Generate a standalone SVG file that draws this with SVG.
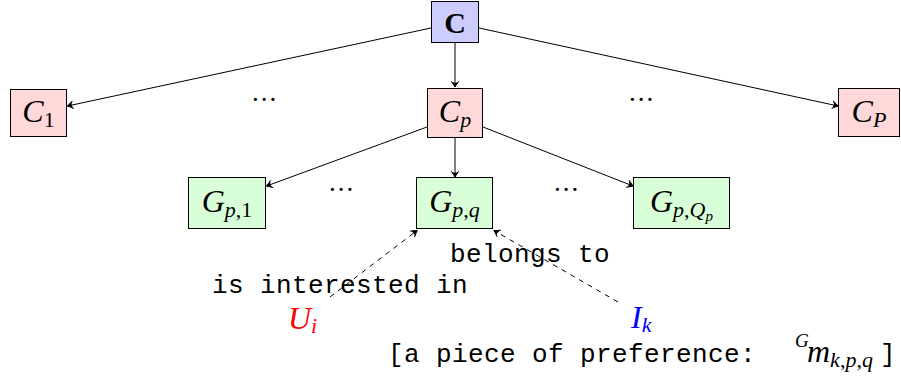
<svg xmlns="http://www.w3.org/2000/svg" width="901" height="380" viewBox="0 0 901 380">
<style>
.box{stroke:#000;stroke-width:1}
.top{fill:#ccccff}
.mid{fill:#ffd9d9}
.low{fill:#d9ffd9}
.m{font-family:"Liberation Serif",serif;font-size:32px;font-style:italic}
.r{font-style:normal}
.sub{font-size:22px}
.sup{font-size:19px}
.tt{font-family:"Liberation Mono",monospace;font-size:26px;letter-spacing:0.4px}
.dots{font-family:"Liberation Serif",serif;font-size:27px;letter-spacing:2px}
.e{stroke:#000;stroke-width:1;fill:none}
.d{stroke:#000;stroke-width:1;fill:none;stroke-dasharray:5 5}
</style>
<defs>
<marker id="ah" markerUnits="userSpaceOnUse" markerWidth="12" markerHeight="12" refX="0" refY="0" viewBox="-8 -6 10 12" orient="auto">
<path d="M-5.5,-3.6 Q-1.5,-0.8 0,0 Q-1.5,0.8 -5.5,3.6" fill="none" stroke="#000" stroke-width="1" stroke-linecap="round"/>
<path d="M-5,-3.2 Q-1.5,-0.8 0,0 Q-1.5,0.8 -5,3.2 Q-3.5,0 -5,-3.2 z" fill="#000"/>
</marker>
</defs>
<g id="connectors">
<line class="e" x1="431" y1="28" x2="67.5" y2="106" marker-end="url(#ah)"/>
<line class="e" x1="455" y1="43" x2="455" y2="87" marker-end="url(#ah)"/>
<line class="e" x1="479" y1="28" x2="838" y2="106" marker-end="url(#ah)"/>
<line class="e" x1="427" y1="127" x2="266.5" y2="186" marker-end="url(#ah)"/>
<line class="e" x1="455" y1="138" x2="455" y2="177" marker-end="url(#ah)"/>
<line class="e" x1="483" y1="127" x2="633" y2="186" marker-end="url(#ah)"/>
<line class="d" x1="330" y1="297" x2="417" y2="230.5" marker-end="url(#ah)"/>
<line class="d" x1="618" y1="302" x2="494" y2="230.5" marker-end="url(#ah)"/>
</g>
<g id="node-C">
<rect class="box top" x="431.5" y="1.5" width="47" height="41"/>
<text x="455" y="33" text-anchor="middle" font-family="Liberation Serif, serif" font-size="30" font-weight="bold">C</text>
</g>
<g id="node-C1">
<rect class="box mid" x="10.5" y="89.5" width="56" height="47"/>
<text class="m" x="38.5" y="122" text-anchor="middle">C<tspan class="r sub" dy="5">1</tspan></text>
</g>
<g id="node-Cp">
<rect class="box mid" x="427.5" y="88.5" width="55" height="49"/>
<text class="m" x="455" y="122" text-anchor="middle">C<tspan class="sub" dy="5">p</tspan></text>
</g>
<g id="node-CP">
<rect class="box mid" x="838.5" y="88.5" width="61" height="48"/>
<text class="m" x="869" y="122" text-anchor="middle">C<tspan class="sub" dy="5">P</tspan></text>
</g>
<g id="node-Gp1">
<rect class="box low" x="188.5" y="177.5" width="77" height="51"/>
<text class="m" x="227" y="212" text-anchor="middle">G<tspan class="sub" dy="5">p<tspan class="r">,1</tspan></tspan></text>
</g>
<g id="node-Gpq">
<rect class="box low" x="416.5" y="177.5" width="76" height="51"/>
<text class="m" x="454.5" y="212" text-anchor="middle">G<tspan class="sub" dy="5">p<tspan class="r">,</tspan>q</tspan></text>
</g>
<g id="node-GpQp">
<rect class="box low" x="633.5" y="177.5" width="96" height="51"/>
<text class="m" x="681.5" y="212" text-anchor="middle">G<tspan class="sub" dy="5">p<tspan class="r">,</tspan>Q</tspan><tspan style="font-size:15px" dy="4">p</tspan></text>
</g>
<g id="dots">
<text class="dots" x="265" y="101" text-anchor="middle">...</text>
<text class="dots" x="642" y="101" text-anchor="middle">...</text>
<text class="dots" x="342" y="191" text-anchor="middle">...</text>
<text class="dots" x="567" y="191" text-anchor="middle">...</text>
</g>
<g id="labels">
<text class="tt" x="212" y="293">is interested in</text>
<text class="tt" x="450" y="262">belongs to</text>
</g>
<g id="node-Ui">
<text class="m" x="288" y="329" fill="#ff0000">U<tspan class="sub" dy="4">i</tspan></text>
</g>
<g id="node-Ik">
<text class="m" x="631" y="328" fill="#0000ff">I<tspan class="sub" dy="4">k</tspan></text>
</g>
<g id="node-pref">
<text class="tt" x="388" y="362">[a piece of preference:</text>
<text class="m sup" x="795" y="347">G</text>
<text class="m" x="807" y="362">m<tspan class="sub" dy="5">k<tspan class="r">,</tspan>p<tspan class="r">,</tspan>q</tspan></text>
<text class="tt" x="880" y="362">]</text>
</g>
</svg>
